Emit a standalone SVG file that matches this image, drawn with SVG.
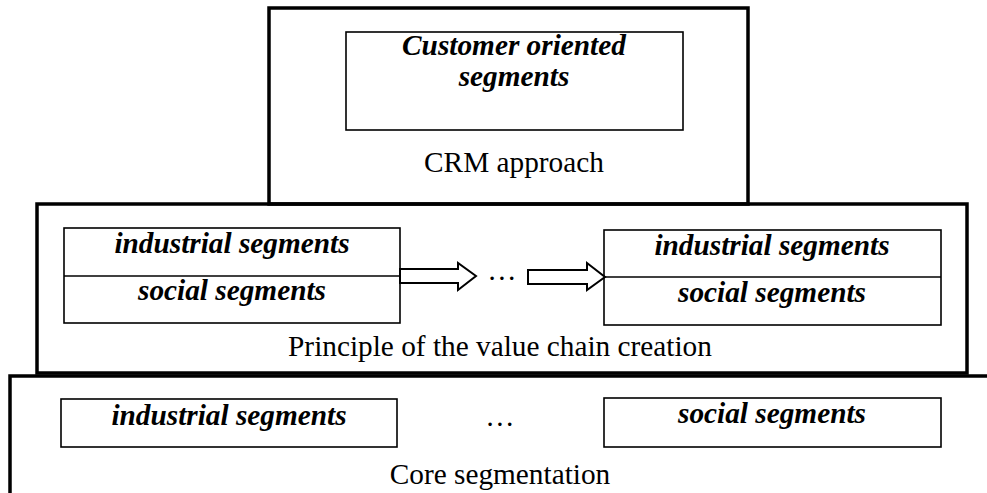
<svg xmlns="http://www.w3.org/2000/svg" width="987" height="493" viewBox="0 0 987 493">
<style>
.outer{fill:none;stroke:#000;stroke-width:3.5}
.inner{fill:#fff;stroke:#000;stroke-width:1.6}
.arrow{fill:#fff;stroke:#000;stroke-width:2;stroke-linejoin:miter}
.t{font-family:"Liberation Serif","Times New Roman",serif;font-size:29.3px;fill:#000;text-anchor:middle}
.bi{font-weight:bold;font-style:italic}
</style>
<rect width="987" height="493" fill="#fff"/>
<g id="crm-layer">
<rect class="outer" x="269" y="8" width="479" height="196"/>
<g id="customer-oriented">
<rect class="inner" x="346" y="32" width="337" height="98"/>
<text class="t bi" x="514" y="55">Customer oriented</text>
<text class="t bi" x="514" y="86">segments</text>
</g>
<text class="t" x="514" y="172">CRM approach</text>
</g>
<g id="value-chain-layer">
<rect class="outer" x="37" y="204" width="930" height="169"/>
<g id="vc-left">
<rect class="inner" x="64" y="228" width="336" height="95"/>
<line x1="64" y1="276" x2="400" y2="276" stroke="#000" stroke-width="1.6"/>
<text class="t bi" x="232" y="253">industrial segments</text>
<text class="t bi" x="232" y="300">social segments</text>
</g>
<g id="vc-right">
<rect class="inner" x="604" y="230" width="337" height="95"/>
<line x1="604" y1="277" x2="941" y2="277" stroke="#000" stroke-width="1.6"/>
<text class="t bi" x="772" y="255">industrial segments</text>
<text class="t bi" x="772" y="302">social segments</text>
</g>
<text class="t" x="502" y="280">…</text>
<text class="t" x="500" y="356">Principle of the value chain creation</text>
</g>
<g id="core-layer">
<rect class="outer" x="10" y="376" width="995" height="140"/>
<g id="core-industrial">
<rect class="inner" x="61" y="399" width="336" height="48"/>
<text class="t bi" x="229" y="425">industrial segments</text>
</g>
<g id="core-social">
<rect class="inner" x="604" y="398" width="337" height="49"/>
<text class="t bi" x="772" y="423">social segments</text>
</g>
<text class="t" x="500" y="426">…</text>
<text class="t" x="500" y="484">Core segmentation</text>
</g>
<g id="connectors">
<path class="arrow" d="M400,269 L458,269 L458,263 L476,276 L458,290 L458,283 L400,283 Z"/>
<path class="arrow" d="M528,270 L587,270 L587,263 L605,277 L587,290 L587,284 L528,284 Z"/>
</g>
</svg>
